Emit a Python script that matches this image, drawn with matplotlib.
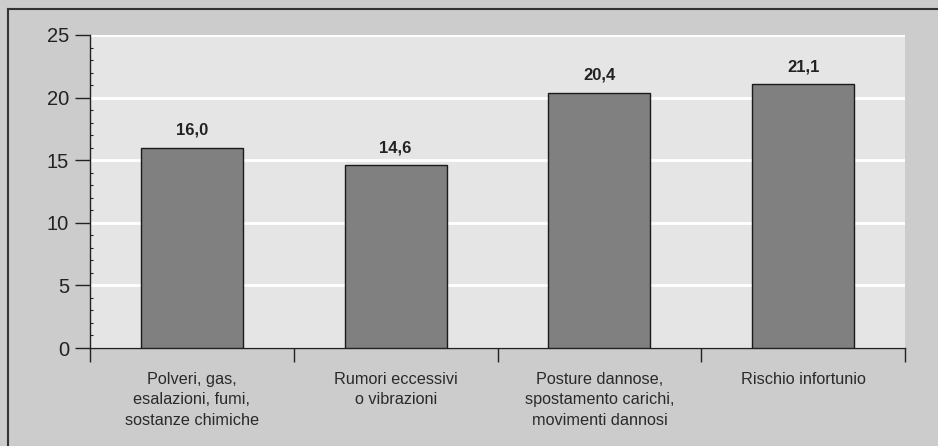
import matplotlib
matplotlib.use("Agg")
import matplotlib.pyplot as plt
from matplotlib.lines import Line2D

plt.rcParams['font.family'] = ['Liberation Sans', 'DejaVu Sans']

categories = ["Polveri, gas,\nesalazioni, fumi,\nsostanze chimiche",
              "Rumori eccessivi\no vibrazioni",
              "Posture dannose,\nspostamento carichi,\nmovimenti dannosi",
              "Rischio infortunio"]
values = [16.0, 14.6, 20.4, 21.1]
yticks = [0, 5, 10, 15, 20, 25]

W, H = 938, 446
fig = plt.figure(figsize=(W / 100, H / 100), dpi=100, facecolor='#cccccc')
ax = fig.add_axes([90 / W, 1 - 348 / H, (905 - 90) / W, (348 - 35) / H])
ax.set_facecolor('#e5e5e5')

x = list(range(len(values)))
ax.bar(x, values, width=0.5, color='#808080', edgecolor='#1a1a1a', linewidth=1.0, zorder=3)

for xi, v in zip(x, values):
    ax.annotate(f"{v:.1f}".replace('.', ','), (xi, v), xytext=(0, 7), textcoords='offset points',
                ha='center', va='bottom', fontsize=12, fontweight='bold', color='#222222')

ax.set_xlim(-0.5, len(values) - 0.5)
ax.set_ylim(0, 25)
ax.set_yticks(yticks)
ax.set_yticks(range(0, 26), minor=True)
ax.set_yticklabels([str(t) for t in yticks], fontsize=14.5, color='#222222')
ax.tick_params(axis='y', which='major', length=11, width=1, color='#222222', pad=4)
ax.tick_params(axis='y', which='minor', length=2.5, width=0.8, direction='in', color='#222222')

bounds = [i - 0.5 for i in range(len(values) + 1)]
ax.set_xticks(bounds)
ax.set_xticklabels([])
ax.tick_params(axis='x', which='major', length=10, width=1, color='#222222')

for xi, lab in zip(x, categories):
    ax.text(xi, -0.076, lab, transform=ax.get_xaxis_transform(), ha='center', va='top',
            fontsize=11.7, color='#2a2a2a', linespacing=1.45)

ax.grid(axis='y', color='white', linewidth=2, zorder=1)
ax.set_axisbelow(True)
for s in ['top', 'right']:
    ax.spines[s].set_visible(False)
for s in ['left', 'bottom']:
    ax.spines[s].set_color('#222222')
    ax.spines[s].set_linewidth(1.0)

# frame lines on top and left of figure
fig.add_artist(Line2D([8 / W, 1], [1 - 9 / H, 1 - 9 / H], transform=fig.transFigure, color='#333333', lw=1.5))
fig.add_artist(Line2D([8 / W, 8 / W], [0, 1 - 9 / H], transform=fig.transFigure, color='#333333', lw=1.5))

fig.savefig('out.png', dpi=100, facecolor=fig.get_facecolor())
